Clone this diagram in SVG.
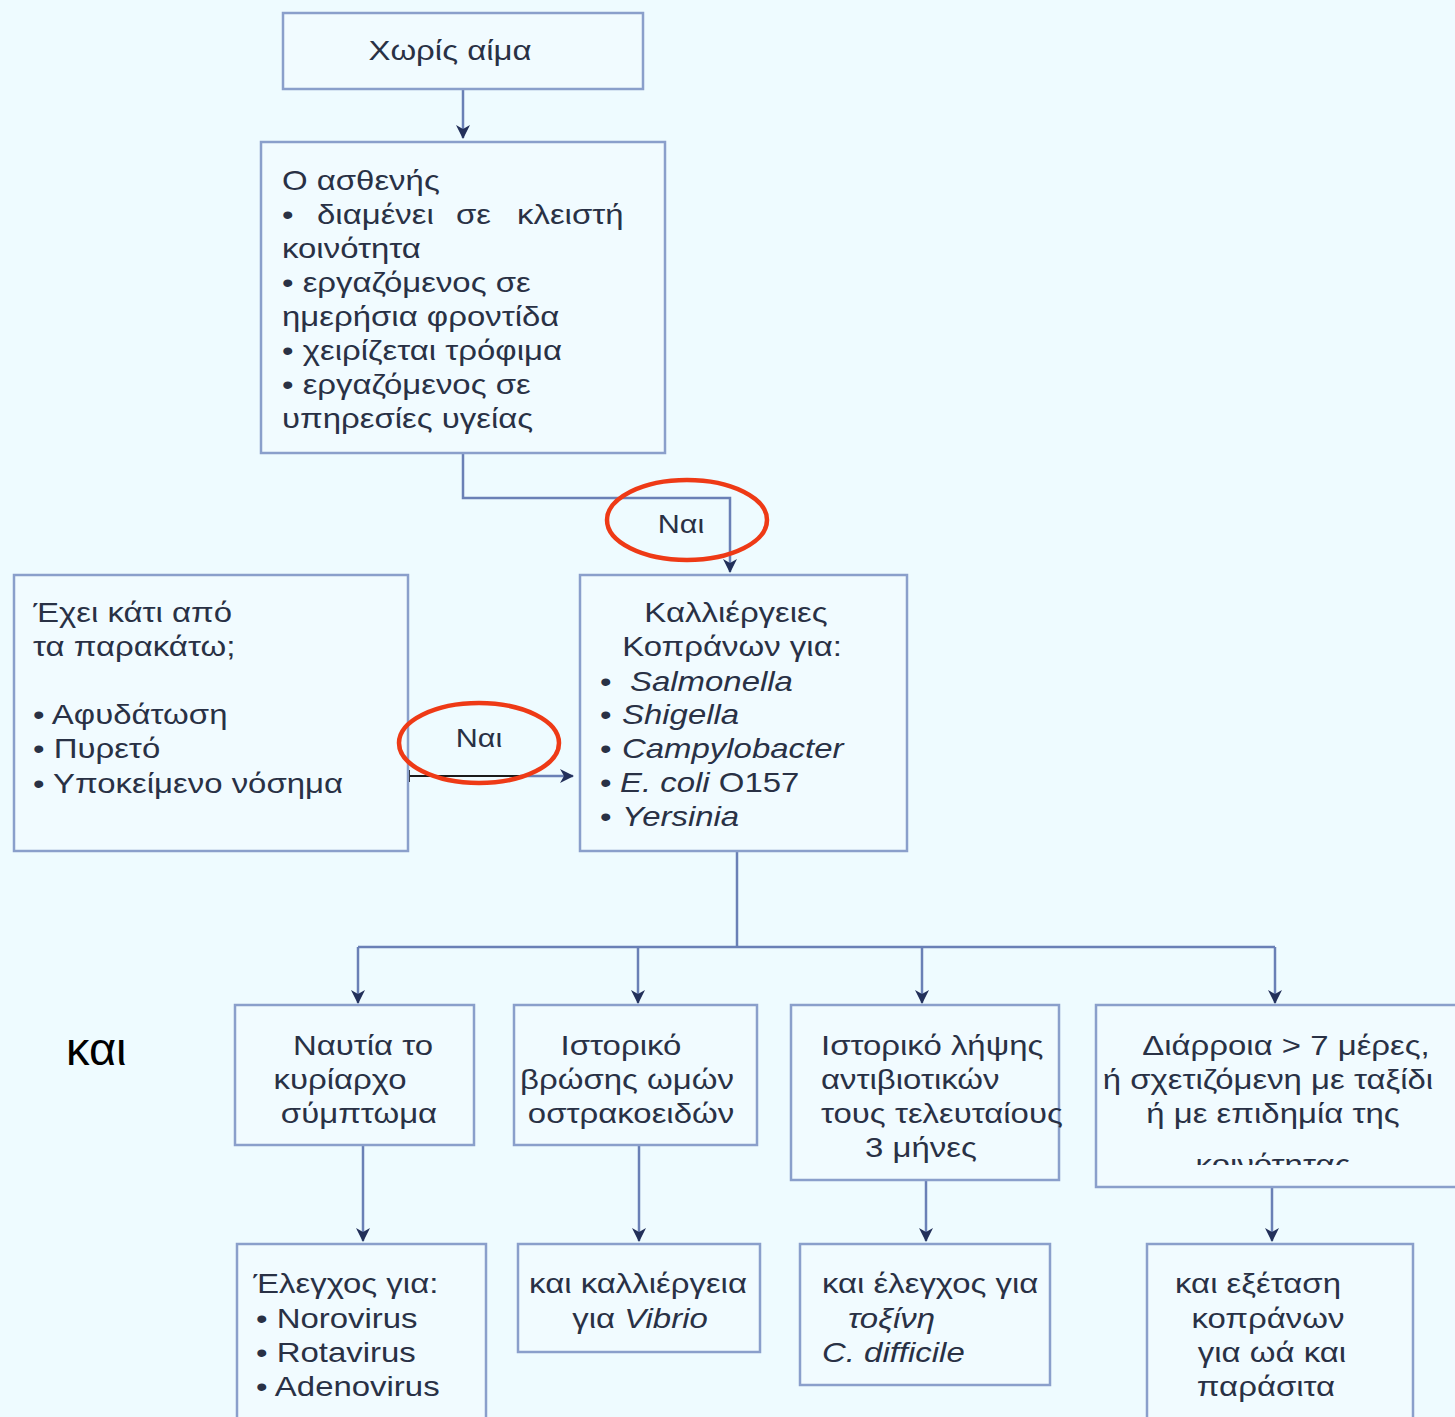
<svg xmlns="http://www.w3.org/2000/svg" width="1455" height="1417" viewBox="0 0 1455 1417">
<style>
.box{fill:#f1fbff;stroke:#8a9fcb;stroke-width:2.5}
.t{font-family:"Liberation Sans",Arial,sans-serif;font-size:27px;fill:#293145;transform-box:fill-box;transform-origin:left center;transform:scale(1.22,1)}
.c{text-anchor:middle;transform-origin:center center}
.i{font-style:italic}
.ln{fill:none;stroke:#6a80b6;stroke-width:2.5}
.ell{fill:none;stroke:#ee3a16;stroke-width:4.5}
.nai{font-family:"Liberation Sans",Arial,sans-serif;font-size:25px;fill:#293145;text-anchor:middle;transform-box:fill-box;transform-origin:center center;transform:scale(1.22,1)}
</style>
<defs>
<marker id="ah" viewBox="0 0 14 14" refX="13" refY="7" markerWidth="14" markerHeight="14" markerUnits="userSpaceOnUse" orient="auto">
<path d="M0,0 L14,7 L0,14 L4,7 Z" fill="#23305a"/>
</marker>
<clipPath id="clipD"><rect x="1096" y="1005" width="359" height="160"/></clipPath>
</defs>
<rect width="1455" height="1417" fill="#eefbff"/>

<g id="connectors">
<line class="ln" x1="463" y1="89" x2="463" y2="138" marker-end="url(#ah)"/>
<polyline class="ln" points="463,453 463,498 730,498 730,572" marker-end="url(#ah)"/>
<line x1="409" y1="776" x2="522" y2="776" stroke="#1a1a1a" stroke-width="2"/>
<line x1="409" y1="770" x2="409" y2="782" stroke="#1a1a1a" stroke-width="2"/>
<line class="ln" x1="520" y1="776" x2="573" y2="776" marker-end="url(#ah)"/>
<polyline class="ln" points="737,851 737,947"/>
<line class="ln" x1="358" y1="947" x2="1275" y2="947"/>
<line class="ln" x1="358" y1="947" x2="358" y2="1003" marker-end="url(#ah)"/>
<line class="ln" x1="638" y1="947" x2="638" y2="1003" marker-end="url(#ah)"/>
<line class="ln" x1="922" y1="947" x2="922" y2="1003" marker-end="url(#ah)"/>
<line class="ln" x1="1275" y1="947" x2="1275" y2="1003" marker-end="url(#ah)"/>
<line class="ln" x1="363" y1="1145" x2="363" y2="1241" marker-end="url(#ah)"/>
<line class="ln" x1="639" y1="1145" x2="639" y2="1241" marker-end="url(#ah)"/>
<line class="ln" x1="926" y1="1180" x2="926" y2="1241" marker-end="url(#ah)"/>
<line class="ln" x1="1272" y1="1187" x2="1272" y2="1241" marker-end="url(#ah)"/>
</g>

<g id="n-xoris">
<rect class="box" x="283" y="13" width="360" height="76"/>
<text class="t c" x="450" y="60">Χωρίς αίμα</text>
</g>

<g id="n-asthenis">
<rect class="box" x="261" y="142" width="404" height="311"/>
<text class="t" x="282" y="190">Ο ασθενής</text>
<text class="t" x="282" y="224">•</text>
<text class="t" x="317" y="224">διαμένει</text>
<text class="t" x="456" y="224">σε</text>
<text class="t" x="517" y="224">κλειστή</text>
<text class="t" x="282" y="258">κοινότητα</text>
<text class="t" x="282" y="292">• εργαζόμενος σε</text>
<text class="t" x="282" y="326">ημερήσια φροντίδα</text>
<text class="t" x="282" y="360">• χειρίζεται τρόφιμα</text>
<text class="t" x="282" y="394">• εργαζόμενος σε</text>
<text class="t" x="282" y="428">υπηρεσίες υγείας</text>
</g>

<g id="label-nai-1">
<text class="nai" x="681" y="533">Ναι</text>
<ellipse class="ell" cx="687" cy="520" rx="80" ry="40"/>
</g>

<g id="n-exei">
<rect class="box" x="14" y="575" width="394" height="276"/>
<text class="t" x="33" y="622">Έχει κάτι από</text>
<text class="t" x="33" y="656">τα παρακάτω;</text>
<text class="t" x="33" y="724">• Αφυδάτωση</text>
<text class="t" x="33" y="758">• Πυρετό</text>
<text class="t" x="33" y="793">• Υποκείμενο νόσημα</text>
</g>

<g id="label-nai-2">
<text class="nai" x="479" y="747">Ναι</text>
<ellipse class="ell" cx="479" cy="743" rx="80" ry="40"/>
</g>

<g id="n-kalliergeies">
<rect class="box" x="580" y="575" width="327" height="276"/>
<text class="t c" x="736" y="622">Καλλιέργειες</text>
<text class="t c" x="732" y="656">Κοπράνων για:</text>
<text class="t" x="600" y="691">•</text><text class="t i" x="630" y="691">Salmonella</text>
<text class="t" x="600" y="724">•</text><text class="t i" x="622" y="724">Shigella</text>
<text class="t" x="600" y="758">•</text><text class="t i" x="622" y="758">Campylobacter</text>
<text class="t" x="600" y="792">•</text><text class="t" x="620" y="792"><tspan class="i">E. coli</tspan> O157</text>
<text class="t" x="600" y="826">•</text><text class="t i" x="622" y="826">Yersinia</text>
</g>

<g id="n-nautia">
<rect class="box" x="235" y="1005" width="239" height="140"/>
<text class="t c" x="363" y="1055">Ναυτία το</text>
<text class="t c" x="340" y="1089">κυρίαρχο</text>
<text class="t c" x="359" y="1123">σύμπτωμα</text>
</g>

<g id="n-istoriko-vrosis">
<rect class="box" x="514" y="1005" width="243" height="140"/>
<text class="t c" x="621" y="1055">Ιστορικό</text>
<text class="t c" x="627" y="1089">βρώσης ωμών</text>
<text class="t c" x="631" y="1123">οστρακοειδών</text>
</g>

<g id="n-istoriko-lipsis">
<rect class="box" x="791" y="1005" width="268" height="175"/>
<text class="t" x="821" y="1055">Ιστορικό λήψης</text>
<text class="t" x="821" y="1089">αντιβιοτικών</text>
<text class="t" x="821" y="1123">τους τελευταίους</text>
<text class="t" x="865" y="1157">3 μήνες</text>
</g>

<g id="n-diarroia">
<rect class="box" x="1096" y="1005" width="365" height="182"/>
<text class="t c" x="1286" y="1055">Διάρροια &gt; 7 μέρες,</text>
<text class="t c" x="1268" y="1089">ή σχετιζόμενη με ταξίδι</text>
<text class="t c" x="1273" y="1123">ή με επιδημία της</text>
<g clip-path="url(#clipD)"><text class="t c" x="1273" y="1174">κοινότητας</text></g>
</g>

<g id="n-elegxos">
<rect class="box" x="237" y="1244" width="249" height="190"/>
<text class="t" x="253" y="1293">Έλεγχος για:</text>
<text class="t" x="256" y="1328">• Norovirus</text>
<text class="t" x="256" y="1362">• Rotavirus</text>
<text class="t" x="256" y="1396">• Adenovirus</text>
</g>

<g id="n-vibrio">
<rect class="box" x="518" y="1244" width="242" height="108"/>
<text class="t c" x="638" y="1293">και καλλιέργεια</text>
<text class="t c" x="640" y="1328">για <tspan class="i">Vibrio</tspan></text>
</g>

<g id="n-cdiff">
<rect class="box" x="800" y="1244" width="250" height="141"/>
<text class="t" x="822" y="1293">και έλεγχος για</text>
<text class="t i" x="848" y="1328">τοξίνη</text>
<text class="t i" x="822" y="1362">C. difficile</text>
</g>

<g id="n-parasita">
<rect class="box" x="1147" y="1244" width="266" height="190"/>
<text class="t c" x="1258" y="1293">και εξέταση</text>
<text class="t c" x="1268" y="1328">κοπράνων</text>
<text class="t c" x="1272" y="1362">για ωά και</text>
<text class="t c" x="1266" y="1396">παράσιτα</text>
</g>

<text x="66" y="1065" font-family="'Liberation Sans',Arial,sans-serif" font-size="47" fill="#000">και</text>
</svg>
